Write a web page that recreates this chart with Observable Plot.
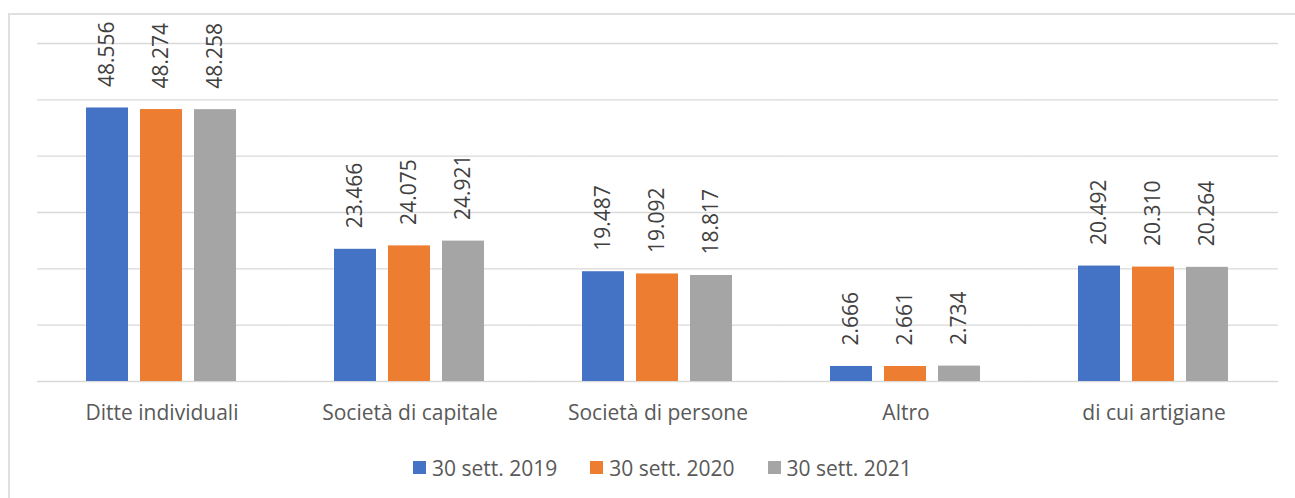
<!DOCTYPE html>
<html>
<head>
<meta charset="utf-8">
<script src="https://cdn.jsdelivr.net/npm/d3@7"></script>
<script src="https://cdn.jsdelivr.net/npm/@observablehq/plot@0.6"></script>
<style>
  body { margin: 0; background: #fff; }
  #wrap { position: relative; width: 1295px; height: 498px; overflow: hidden; font-family: "Open Sans", sans-serif; }
  #frame { position: absolute; left: 8px; top: 13px; width: 1400px; height: 600px; border: 2px solid #e0e0e0; box-sizing: border-box; }
  #chart { position: absolute; left: 0; top: 0; }
  #legend { position: absolute; left: 413px; top: 451px; }
  #legend .lg-swatch { margin-right: 33px !important; }
  #legend .lg-swatch > svg { margin-right: 6px !important; }
</style>
</head>
<body>
<div id="wrap">
  <div id="frame"></div>
  <div id="chart"></div>
  <div id="legend"></div>
</div>
<script>
const categories = ["Ditte individuali", "Società di capitale", "Società di persone", "Altro", "di cui artigiane"];
const series = ["30 sett. 2019", "30 sett. 2020", "30 sett. 2021"];
const values2019 = [48556, 23466, 19487, 2666, 20492];
const values2020 = [48274, 24075, 19092, 2661, 20310];
const values2021 = [48258, 24921, 18817, 2734, 20264];
const gridTicks = [0, 10000, 20000, 30000, 40000, 50000, 60000];
const colors = ["#4472C4", "#ED7D31", "#A5A5A5"];

const seriesValues = [values2019, values2020, values2021];
const rows = categories.flatMap((c, i) =>
  series.map((s, j) => ({category: c, series: s, value: seriesValues[j][i]}))
);
const fmt = d3.formatLocale({decimal: ",", thousands: ".", grouping: [3], currency: ["", "€"]}).format(",d");

const chart = Plot.plot({
  width: 1295,
  height: 440,
  marginLeft: 38,
  marginRight: 17,
  marginTop: 43,
  marginBottom: 59,
  style: {fontFamily: "'Open Sans', sans-serif", fontSize: "21px", color: "#595959", background: "transparent", overflow: "visible"},
  fx: {domain: categories, paddingInner: 0.383, paddingOuter: 0.1915, label: null, axis: "bottom", tickSize: 0, tickPadding: 24},
  x: {domain: series, axis: null, paddingInner: 0.218, paddingOuter: 0},
  y: {domain: [0, 60000], axis: null},
  color: {domain: series, range: colors},
  marks: [
    Plot.ruleY(gridTicks, {stroke: "#d9d9d9", strokeWidth: 1.3, insetLeft: -48, insetRight: -48}),
    Plot.barY(rows, {fx: "category", x: "series", y: "value", fill: "series"}),
    Plot.text(rows, {
      fx: "category", x: "series", y: "value",
      text: d => fmt(d.value),
      rotate: -90, textAnchor: "start", dy: -21,
      fontSize: 21, fill: "#404040"
    })
  ]
});
document.getElementById("chart").appendChild(chart);

const legend = Plot.legend({
  color: {domain: series, range: colors},
  legend: "swatches",
  swatchSize: 13,
  className: "lg",
  style: {fontFamily: "'Open Sans', sans-serif", fontSize: "21px", color: "#595959"}
});
document.getElementById("legend").appendChild(legend);
</script>
</body>
</html>
